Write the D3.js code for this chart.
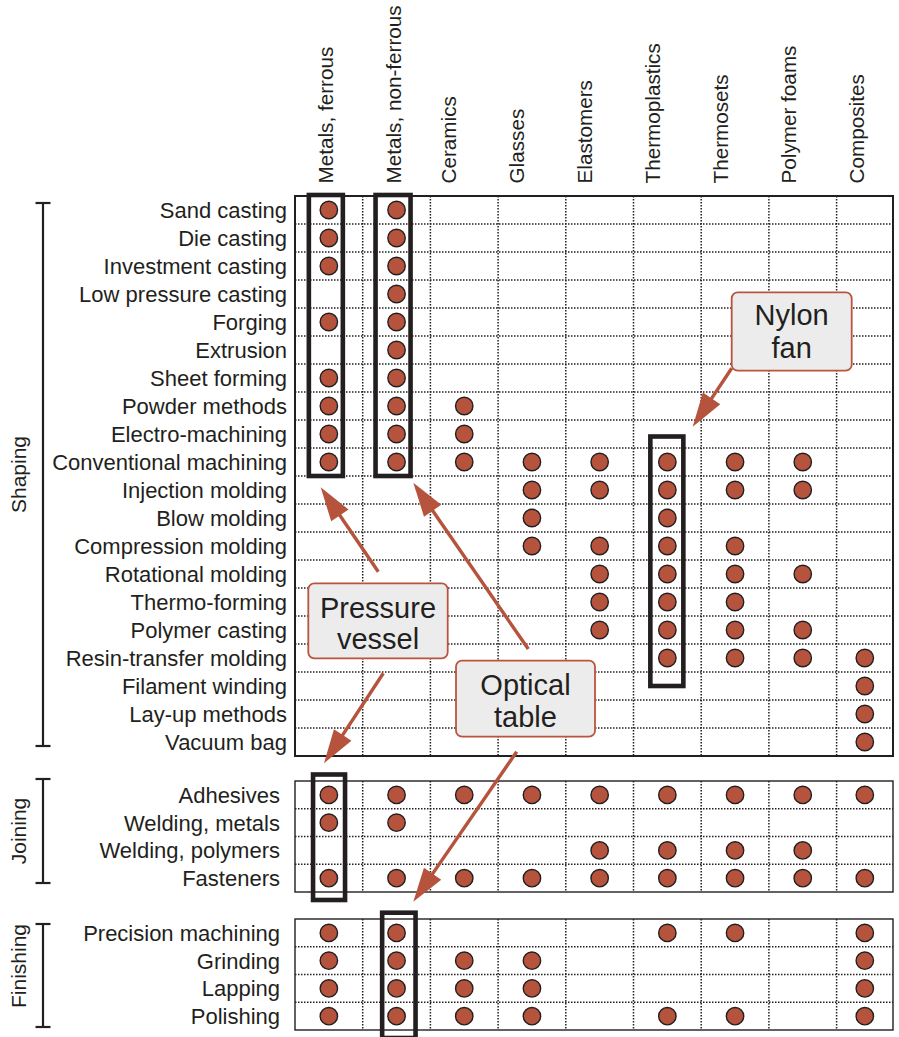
<!DOCTYPE html>
<html><head><meta charset="utf-8">
<script src="https://cdn.jsdelivr.net/npm/d3@7"></script>
<style>
html,body{margin:0;padding:0;background:#fff;}
svg{display:block;}
text{font-family:"Liberation Sans",Arial,Helvetica,sans-serif;fill:#231f20;}
</style>
</head><body><svg id="chart" width="899" height="1037"></svg>
<script>
// ---------- DATA ----------
const materials = ["Metals, ferrous","Metals, non-ferrous","Ceramics","Glasses","Elastomers","Thermoplastics","Thermosets","Polymer foams","Composites"];
const groups = ["Shaping","Joining","Finishing"];
const shapingProcesses = ["Sand casting","Die casting","Investment casting","Low pressure casting","Forging","Extrusion","Sheet forming","Powder methods","Electro-machining","Conventional machining","Injection molding","Blow molding","Compression molding","Rotational molding","Thermo-forming","Polymer casting","Resin-transfer molding","Filament winding","Lay-up methods","Vacuum bag"];
const joiningProcesses = ["Adhesives","Welding, metals","Welding, polymers","Fasteners"];
const finishingProcesses = ["Precision machining","Grinding","Lapping","Polishing"];
// indices of compatible materials for each process row
const shapingCompat = [[0,1],[0,1],[0,1],[1],[0,1],[1],[0,1],[0,1,2],[0,1,2],[0,1,2,3,4,5,6,7],[3,4,5,6,7],[3,5],[3,4,5,6],[4,5,6,7],[4,5,6],[4,5,6,7],[5,6,7,8],[8],[8],[8]];
const joiningCompat = [[0,1,2,3,4,5,6,7,8],[0,1],[4,5,6,7],[0,1,2,3,4,5,6,7,8]];
const finishingCompat = [[0,1,5,6,8],[0,1,2,3,8],[0,1,2,3,8],[0,1,2,3,5,6,8]];
const calloutTexts = [["Nylon","fan"],["Pressure","vessel"],["Optical","table"]];

// ---------- LAYOUT ----------
const INK = "#231f20", RED = "#b5533d";
const svg = d3.select("#chart");
const colScale = d3.scaleLinear().domain([0, 8]).range([295, 836.6]);
const gridLeft = 295, gridRight = 893;
const colCenter = i => i < 8 ? colScale(i + 0.5) : (colScale(8) + gridRight) / 2;
const headerScale = d3.scaleLinear().domain([0, 8]).range([320, 864]);

const panels = [
  {name: groups[0], processes: shapingProcesses, compat: shapingCompat, top: 196, bottom: 756, labelRight: 287, bw: 2, bracket: [203, 746]},
  {name: groups[1], processes: joiningProcesses, compat: joiningCompat, top: 781, bottom: 892, labelRight: 280, bw: 1.4, bracket: [779, 883]},
  {name: groups[2], processes: finishingProcesses, compat: finishingCompat, top: 919, bottom: 1030, labelRight: 280, bw: 1.4, bracket: [924, 1027]}
];
panels.forEach(p => { p.y = d3.scaleBand().domain(p.processes).range([p.top, p.bottom]); });

// headers
svg.append("g").selectAll("text").data(materials).join("text")
  .attr("transform", (d, i) => `translate(${headerScale(i) + (i < 2 ? 13 : 0)},183.5) rotate(-90)`)
  .attr("text-anchor", "start")
  .style("font-size", "20.7px")
  .text(d => d);

panels.forEach(p => {
  const g = svg.append("g");
  const y = p.y;
  // dotted horizontal lines
  g.selectAll("line.h").data(p.processes.slice(1)).join("line")
    .attr("x1", gridLeft).attr("x2", gridRight)
    .attr("y1", d => y(d)).attr("y2", d => y(d))
    .attr("stroke", INK).attr("stroke-width", 1.5).attr("stroke-dasharray", "1.5,1.5");
  // dotted vertical lines
  g.selectAll("line.v").data(d3.range(1, 9)).join("line")
    .attr("x1", d => colScale(d)).attr("x2", d => colScale(d))
    .attr("y1", p.top).attr("y2", p.bottom)
    .attr("stroke", INK).attr("stroke-width", 1.5).attr("stroke-dasharray", "1.5,1.5");
  // border
  g.append("rect").attr("x", gridLeft).attr("y", p.top)
    .attr("width", gridRight - gridLeft).attr("height", p.bottom - p.top)
    .attr("fill", "none").attr("stroke", INK).attr("stroke-width", p.bw);
  // row labels
  g.selectAll("text.row").data(p.processes).join("text")
    .attr("x", p.labelRight).attr("y", d => y(d) + y.bandwidth() / 2 + 8)
    .attr("text-anchor", "end").style("font-size", "22px").text(d => d);
  // dots
  const cells = [];
  p.compat.forEach((cols, r) => cols.forEach(c => cells.push({r: p.processes[r], c})));
  g.selectAll("circle").data(cells).join("circle")
    .attr("cx", d => colCenter(d.c)).attr("cy", d => y(d.r) + y.bandwidth() / 2)
    .attr("r", 8.7).attr("fill", RED).attr("stroke", INK).attr("stroke-width", 1.4);
  // bracket
  const bx = 43;
  g.append("line").attr("x1", bx).attr("x2", bx).attr("y1", p.bracket[0]).attr("y2", p.bracket[1])
    .attr("stroke", INK).attr("stroke-width", 2.2);
  p.bracket.forEach(by => g.append("line").attr("x1", bx - 7.5).attr("x2", bx + 7.5)
    .attr("y1", by).attr("y2", by).attr("stroke", INK).attr("stroke-width", 2.2));
  const mid = p.name === "Finishing" ? 966 : (p.bracket[0] + p.bracket[1]) / 2;
  g.append("text").attr("transform", `translate(26,${mid}) rotate(-90)`)
    .attr("text-anchor", "middle").style("font-size", "21px").text(p.name);
});

// heavy highlight boxes
const S = panels[0], J = panels[1], F = panels[2];
const rowBottom = (p, name) => p.y(name) + p.y.bandwidth();
const rowMid = (p, name) => p.y(name) + p.y.bandwidth() / 2;
const boxes = [
  [colCenter(0) - 20, S.top - 1, colCenter(0) + 14, rowBottom(S, "Conventional machining")],
  [colCenter(1) - 21, S.top - 1, colCenter(1) + 14, rowBottom(S, "Conventional machining")],
  [colCenter(5) - 17, rowMid(S, "Conventional machining") - 25.5, colCenter(5) + 16, rowMid(S, "Filament winding")],
  [colCenter(0) - 15.8, J.top - 6.5, colCenter(0) + 16.2, J.bottom + 8],
  [colCenter(1) - 14.4, F.top - 6.3, colCenter(1) + 19, F.bottom + 8]
];
svg.append("g").selectAll("rect").data(boxes).join("rect")
  .attr("x", d => d[0]).attr("y", d => d[1])
  .attr("width", d => d[2] - d[0]).attr("height", d => d[3] - d[1])
  .attr("fill", "none").attr("stroke", INK).attr("stroke-width", 4.6);

// arrows (annotation geometry)
const arrows = [
  [[731.7, 368.3], [692.7, 426.7]],
  [[378.3, 571.7], [320.7, 487.3]],
  [[383.3, 673.3], [324, 763.3]],
  [[528.3, 649], [413.3, 482.7]],
  [[516.7, 751.7], [413.3, 901.7]]
];
const ag = svg.append("g");
arrows.forEach(([s, t]) => {
  const dx = t[0] - s[0], dy = t[1] - s[1], L = Math.hypot(dx, dy);
  const ux = dx / L, uy = dy / L, nx = -uy, ny = ux;
  const hl = 34, hw = 10.5;
  const bxp = t[0] - ux * hl, byp = t[1] - uy * hl;
  ag.append("line").attr("x1", s[0]).attr("y1", s[1]).attr("x2", bxp + ux * 2).attr("y2", byp + uy * 2)
    .attr("stroke", RED).attr("stroke-width", 3.4);
  ag.append("path").attr("d", `M${t[0]},${t[1]}L${bxp + nx * hw},${byp + ny * hw}L${bxp - nx * hw},${byp - ny * hw}Z`)
    .attr("fill", RED);
});

// callouts
const calloutBoxes = [
  {x: 731.7, y: 292.3, w: 120, h: 78.4, b: [325, 358.3]},
  {x: 308.3, y: 583.3, w: 139.4, h: 75, b: [618.3, 649.3]},
  {x: 456, y: 660.7, w: 139, h: 76, b: [695, 726.7]}
];
const cg = svg.append("g");
calloutBoxes.forEach((c, i) => {
  cg.append("rect").attr("x", c.x).attr("y", c.y).attr("width", c.w).attr("height", c.h)
    .attr("rx", 6).attr("fill", "#ececec").attr("stroke", "#b9553f").attr("stroke-width", 1.8);
  calloutTexts[i].forEach((t, k) => cg.append("text").attr("x", c.x + c.w / 2).attr("y", c.b[k])
    .attr("text-anchor", "middle").style("font-size", "29px").text(t));
});
</script>
</body></html>
